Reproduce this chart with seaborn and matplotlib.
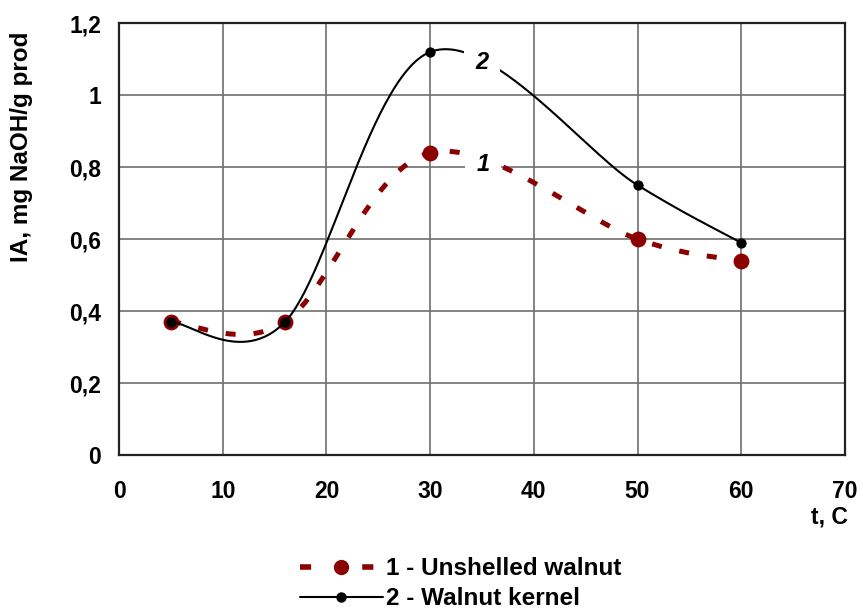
import numpy as np
import pandas as pd
import matplotlib
matplotlib.use("Agg")
import matplotlib.pyplot as plt
from matplotlib.lines import Line2D
import seaborn as sns

temperature = [5, 16, 30, 50, 60]
unshelled = [0.37, 0.37, 0.84, 0.60, 0.54]
kernel = [0.37, 0.37, 1.12, 0.75, 0.59]
series_names = ["1 - Unshelled walnut", "2 - Walnut kernel"]
x_ticks = [0, 10, 20, 30, 40, 50, 60, 70]
y_ticks = [0, 0.2, 0.4, 0.6, 0.8, 1.0, 1.2]
y_tick_labels = ["0", "0,2", "0,4", "0,6", "0,8", "1", "1,2"]


def smooth(xs, ys, n=60):
    # Excel-like smoothed line (Catmull-Rom as cubic Bezier)
    P = np.column_stack([xs, ys]).astype(float)
    out = []
    for i in range(len(P) - 1):
        p0 = P[i - 1] if i > 0 else P[i]
        p1 = P[i]
        p2 = P[i + 1]
        p3 = P[i + 2] if i + 2 < len(P) else P[i + 1]
        b1 = p1 + (p2 - p0) / 6
        b2 = p2 - (p3 - p1) / 6
        t = np.linspace(0, 1, n)[:, None]
        seg = ((1 - t) ** 3) * p1 + 3 * ((1 - t) ** 2) * t * b1 + 3 * (1 - t) * t ** 2 * b2 + t ** 3 * p2
        out.append(seg if i == 0 else seg[1:])
    s = np.vstack(out)
    return pd.DataFrame({"x": s[:, 0], "y": s[:, 1]})


sns.set_style("white")
plt.rcParams["font.family"] = ["Liberation Sans", "DejaVu Sans"]
plt.rcParams["font.weight"] = "bold"
plt.rcParams["text.color"] = "black"
plt.rcParams["xtick.color"] = "black"
plt.rcParams["ytick.color"] = "black"
plt.rcParams["axes.labelcolor"] = "black"

fig = plt.figure(figsize=(8.63, 6.10), dpi=100)
ax = fig.add_axes([0.138, 0.254, 0.841, 0.708])

red = "#8B0000"
df1 = smooth(temperature, unshelled)
df2 = smooth(temperature, kernel)

sns.lineplot(data=df1, x="x", y="y", ax=ax, sort=False, color=red, lw=3.6,
             zorder=3, estimator=None)
ax.lines[-1].set_dashes([2, 3.6])
sns.scatterplot(x=temperature, y=unshelled, ax=ax, color=red, s=130,
                edgecolor=red, linewidth=0, zorder=4)
sns.lineplot(data=df2, x="x", y="y", ax=ax, sort=False, color="black", lw=1.5,
             zorder=5, estimator=None)
sns.scatterplot(x=temperature, y=kernel, ax=ax, color="black", s=55,
                edgecolor="black", linewidth=0, zorder=6)

for txt, xx, yy in [("2", 35.0, 1.092), ("1", 35.1, 0.806)]:
    ax.text(xx, yy, txt, fontsize=17, fontweight="bold", fontstyle="italic",
            ha="center", va="center", zorder=7,
            bbox=dict(facecolor="white", edgecolor="none", pad=8))

ax.set_xlim(0, 70)
ax.set_ylim(0, 1.2)
ax.set_xticks(x_ticks)
ax.set_xticklabels([str(v) for v in x_ticks], fontsize=16.5, fontweight="bold")
ax.set_yticks(y_ticks)
ax.set_yticklabels(y_tick_labels, fontsize=16.5, fontweight="bold")
ax.tick_params(axis="x", length=0, pad=18)
ax.tick_params(axis="y", length=0, pad=13)
ax.grid(True, color="#6e6e6e", lw=1.2)
for sp in ax.spines.values():
    sp.set_visible(True)
    sp.set_color("#222222")
    sp.set_linewidth(1.6)

ax.set_xlabel("")
ax.set_ylabel("")
fig.text(0.025, 0.759, "IA, mg NaOH/g prod", fontsize=17.5, fontweight="bold",
         rotation=90, ha="center", va="center")
fig.text(0.982, 0.152, "t, C", fontsize=16.5, fontweight="bold", ha="right", va="center")

handles = [
    Line2D([], [], color=red, lw=4, dashes=[2.0, 9.2], marker="o", markersize=11,
           markeredgewidth=0),
    Line2D([], [], color="black", lw=1.5, marker="o", markersize=7.5,
           markeredgewidth=0),
]
fig.legend(handles, series_names, loc="center left", bbox_to_anchor=(300 / 863, 0.043),
           frameon=False, numpoints=1, handlelength=3.4, handletextpad=0.15,
           labelspacing=0.3, borderpad=0, borderaxespad=0,
           prop={"size": 17.5, "weight": "bold"})

fig.savefig("out.png", dpi=100)
